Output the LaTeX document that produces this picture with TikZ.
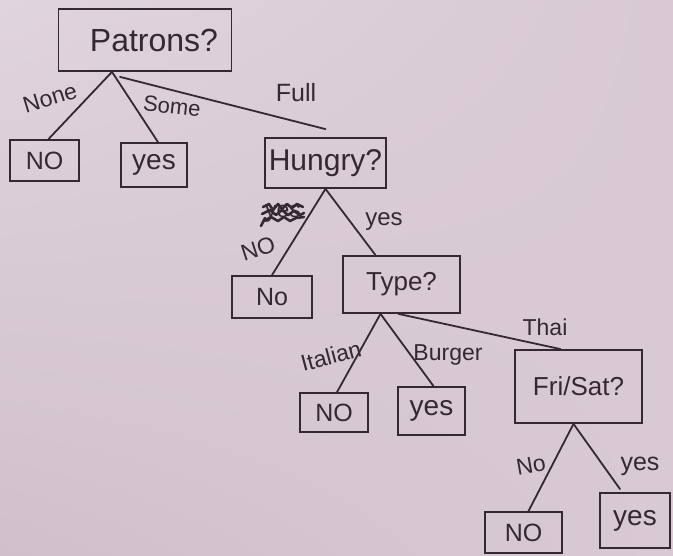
\documentclass[tikz,border=0pt]{standalone}
\usepackage{fontspec}
\setmainfont{Liberation Sans}
\usetikzlibrary{calc,shadings}
\definecolor{paper}{RGB}{216,201,212}
\definecolor{paperlight}{RGB}{224,212,222}
\definecolor{paperdark}{RGB}{208,192,204}
\definecolor{ink}{RGB}{50,42,48}
\begin{document}
\begin{tikzpicture}[x=1pt,y=-1pt,
  box/.style={draw=ink, line width=1.8pt, inner sep=0pt, text=ink},
  qbox/.style={box, font=\fontsize{30}{34}\selectfont},
  leaf/.style={box, font=\fontsize{25}{28}\selectfont},
  edgelbl/.style={text=ink, inner sep=0pt, font=\fontsize{23}{26}\selectfont},
  branch/.style={draw=ink, line width=1.8pt, line cap=round},
  scribble/.style={draw=ink, line width=2.6pt, line join=round, line cap=round}
]
% paper
\shade[upper left=paperlight, upper right=paper, lower left=paperdark, lower right=paper]
  (0,0) rectangle (673,556);
\useasboundingbox (0,0) rectangle (673,556);

% decision nodes
\node[qbox, minimum width=173pt, minimum height=62pt, font=\fontsize{32}{36}\selectfont] (pat) at (145,40) {\hspace*{18pt}Patrons?};
\node[qbox, minimum width=121pt, minimum height=50pt] (hun) at (325.5,163) {Hungry?};
\node[qbox, minimum width=117pt, minimum height=57pt, font=\fontsize{26}{30}\selectfont] (typ) at (401.5,284.5) {Type?};
\node[qbox, minimum width=127pt, minimum height=73pt, font=\fontsize{26}{30}\selectfont] (fri) at (578.5,386.5) {Fri/Sat?};

% leaves
\node[leaf, minimum width=69pt, minimum height=41pt] (n1) at (44.5,160.5) {NO};
\node[leaf, minimum width=66pt, minimum height=44pt, font=\fontsize{28}{30}\selectfont] (y1) at (154,165) {yes};
\node[leaf, minimum width=80pt, minimum height=42pt] (n2) at (272,297) {No};
\node[leaf, minimum width=68pt, minimum height=39pt] (n3) at (334,412.5) {NO};
\node[leaf, minimum width=67pt, minimum height=48pt, font=\fontsize{28}{30}\selectfont] (y3) at (431.5,411) {yes};
\node[leaf, minimum width=77pt, minimum height=41pt] (n4) at (523.5,532.5) {NO};
\node[leaf, minimum width=70pt, minimum height=55pt, font=\fontsize{28}{30}\selectfont] (y4) at (635,520.5) {yes};

% branch points
\coordinate (pa) at ([xshift=-33pt]pat.south);
\coordinate (pf) at ([xshift=-25pt, yshift=-5pt]pat.south);
\coordinate (ha) at (hun.south);
\coordinate (ta) at ([xshift=-21pt]typ.south);
\coordinate (tt) at ([xshift=-3pt]typ.south);
\coordinate (fa) at ([xshift=-5pt]fri.south);
\coordinate (hend) at ([yshift=8pt]hun.north);
\coordinate (yend) at ([xshift=-15pt, yshift=3pt]y4.north);

% branches
\draw[branch] (pa) -- ([xshift=4pt]n1.north);
\draw[branch] (pa) -- ([xshift=4pt]y1.north);
\draw[branch] (pf) -- (hend);
\draw[branch] (ha) -- (n2.north);
\draw[branch] (ha) -- ([xshift=-26pt]typ.north);
\draw[branch] (ta) -- ([xshift=3pt]n3.north);
\draw[branch] (ta) -- ([xshift=2pt]y3.north);
\draw[branch] (tt) -- ([xshift=-18pt]fri.north);
\draw[branch] (fa) -- ([xshift=5pt]n4.north);
\draw[branch] (fa) -- (yend);

% branch labels
\node[edgelbl, rotate=17] (lnone) at (50,98) {None};
\node[edgelbl, rotate=-6, font=\fontsize{22}{26}\selectfont] (lsome) at (172,106) {Some};
\node[edgelbl, font=\fontsize{25}{28}\selectfont] (lfull) at (296,93) {Full};
% struck-out label on the Hungry? branch
\node[edgelbl] (lx) at (283,214) {yes};
\draw[scribble] ([shift={(-20,-7)}]lx.center) -- ++(6,-3) -- ++(4,6) -- ++(5,-6) -- ++(4,5) -- ++(5,-5) -- ++(5,4) -- ++(5,-4) -- ++(6,3);
\draw[scribble] ([shift={(-21,0)}]lx.center) -- ++(8,-4) -- ++(6,5) -- ++(6,-5) -- ++(6,5) -- ++(6,-4) -- ++(6,4) -- ++(4,-2);
\draw[scribble] ([shift={(-19,7)}]lx.center) -- ++(7,-4) -- ++(7,4) -- ++(6,-4) -- ++(6,4) -- ++(6,-3) -- ++(8,-1);
\draw[scribble] ([shift={(-22,12)}]lx.center) -- ++(4,-8);
\node[edgelbl, rotate=18] (lno2) at (258,249) {NO};
\node[edgelbl, font=\fontsize{24}{26}\selectfont] (lyes2) at (384,222) {yes};
\node[edgelbl, rotate=15] (lital) at (331,356) {Italian};
\node[edgelbl] (lburg) at (448,355) {Burger};
\node[edgelbl] (lthai) at (545,327) {Thai};
\node[edgelbl, rotate=10] (lno4) at (531,465) {No};
\node[edgelbl, font=\fontsize{25}{28}\selectfont] (lyes4) at (640,466) {yes};
\end{tikzpicture}
\end{document}
